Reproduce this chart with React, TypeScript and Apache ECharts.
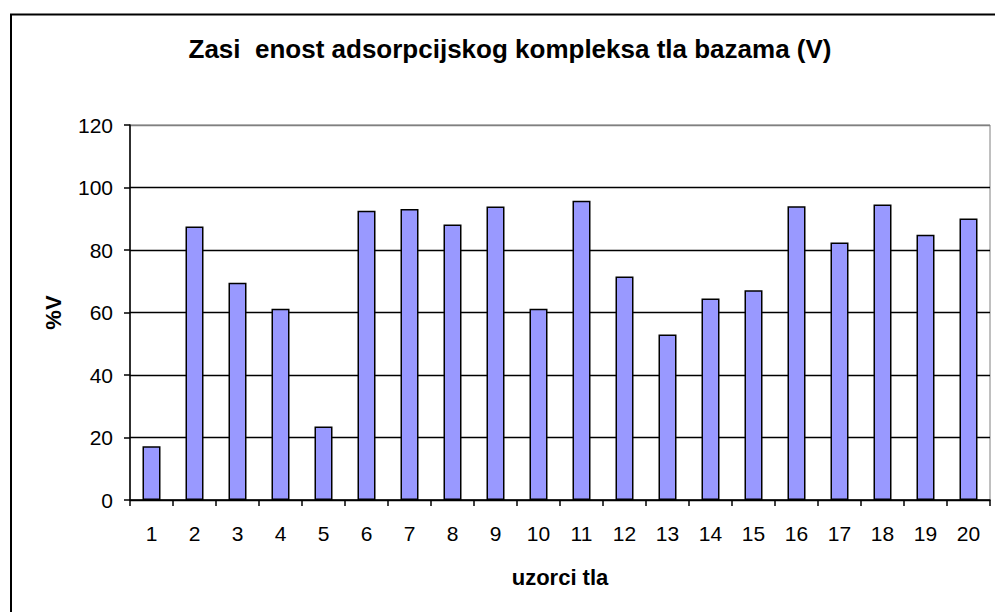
import React, { useEffect, useRef } from "react";
import * as echarts from "echarts";

const categories = ["1","2","3","4","5","6","7","8","9","10","11","12","13","14","15","16","17","18","19","20"];
const values = [17.2, 87.5, 69.5, 61.2, 23.5, 92.6, 93.1, 88.2, 93.9, 61.2, 95.8, 71.5, 53.0, 64.5, 67.1, 94.0, 82.4, 94.6, 84.9, 90.1];
const titleText = "Zasi  enost adsorpcijskog kompleksa tla bazama (V)";
const xName = "uzorci tla";
const yName = "%V";

const FONT = "'Liberation Sans', Arial, sans-serif";

export default function App() {
  const ref = useRef<HTMLDivElement>(null);
  useEffect(() => {
    if (!ref.current) return;
    const chart = echarts.init(ref.current, null, { renderer: "svg" });
    chart.setOption({
      animation: false,
      backgroundColor: "#ffffff",
      graphic: [
        {
          type: "rect",
          shape: { x: 11, y: 14.5, width: 1000, height: 640 },
          style: { fill: "none", stroke: "#000", lineWidth: 2 },
          z: 0,
        },
        {
          type: "text",
          x: 510,
          y: 49,
          style: {
            text: titleText,
            font: `bold 26px ${FONT}`,
            fill: "#000",
            align: "center",
            verticalAlign: "middle",
          },
        },
      ],
      grid: {
        left: 130,
        top: 125,
        width: 860,
        height: 375,
        show: true,
        borderColor: "#808080",
        borderWidth: 1,
        backgroundColor: "transparent",
      },
      xAxis: {
        type: "category",
        data: categories,
        boundaryGap: true,
        name: xName,
        nameLocation: "middle",
        nameGap: 66,
        nameTextStyle: { fontFamily: FONT, fontSize: 22, fontWeight: "bold", color: "#000" },
        axisLine: { show: true, lineStyle: { color: "#000", width: 1.5 } },
        axisTick: { show: true, alignWithLabel: false, length: 6, lineStyle: { color: "#000", width: 1.5 } },
        axisLabel: { fontFamily: FONT, fontSize: 21, color: "#000", margin: 23, interval: 0 },
        splitLine: { show: false },
      },
      yAxis: {
        type: "value",
        min: 0,
        max: 120,
        interval: 20,
        name: yName,
        nameLocation: "middle",
        nameGap: 66,
        nameRotate: 90,
        nameTextStyle: { fontFamily: FONT, fontSize: 22, fontWeight: "bold", color: "#000" },
        axisLine: { show: true, lineStyle: { color: "#000", width: 1.5 } },
        axisTick: { show: true, length: 6, lineStyle: { color: "#000", width: 1.5 } },
        axisLabel: { fontFamily: FONT, fontSize: 21, color: "#000", margin: 17 },
        splitLine: {
          show: true,
          lineStyle: {
            color: ["#000", "#000", "#000", "#000", "#000", "#000", "#808080"],
            width: 1.3,
          },
        },
      },
      series: [
        {
          type: "bar",
          data: values,
          barWidth: 18,
          itemStyle: { color: "#9999FF", borderColor: "#000", borderWidth: 1.5 },
        },
      ],
    });
    return () => chart.dispose();
  }, []);
  return (
    <div
      ref={ref}
      style={{ position: "fixed", left: 0, top: 0, width: 995, height: 612 }}
    />
  );
}
